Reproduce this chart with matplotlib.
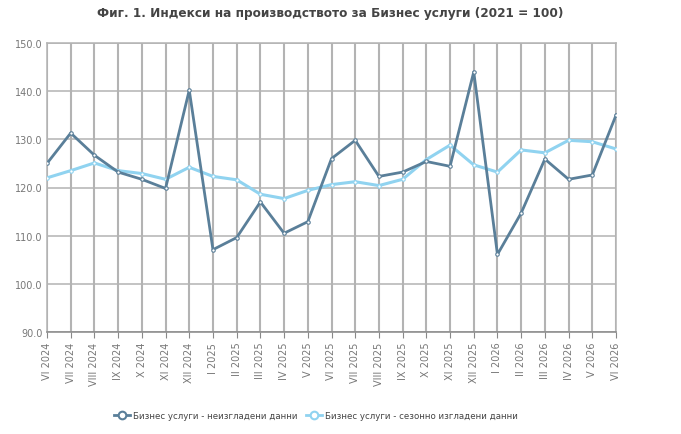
import matplotlib
matplotlib.use("Agg")
import matplotlib.pyplot as plt
from matplotlib.lines import Line2D

labels = ["VI 2024", "VII 2024", "VIII 2024", "IX 2024", "X 2024", "XI 2024", "XII 2024",
          "I 2025", "II 2025", "III 2025", "IV 2025", "V 2025", "VI 2025", "VII 2025",
          "VIII 2025", "IX 2025", "X 2025", "XI 2025", "XII 2025", "I 2026", "II 2026",
          "III 2026", "IV 2026", "V 2026", "VI 2026"]
raw = [125.0, 131.3, 126.7, 123.2, 121.7, 119.8, 140.2, 107.1, 109.6, 117.0, 110.5, 112.9,
       126.0, 129.8, 122.3, 123.2, 125.4, 124.4, 144.0, 106.1, 114.7, 125.9, 121.7, 122.6, 135.0]
sa = [122.0, 123.5, 125.1, 123.5, 122.9, 121.7, 124.2, 122.3, 121.6, 118.6, 117.7, 119.4,
      120.6, 121.2, 120.4, 121.7, 125.8, 128.8, 124.7, 123.2, 127.8, 127.2, 129.8, 129.5, 128.0]
series_names = ["Бизнес услуги - неизгладени данни", "Бизнес услуги - сезонно изгладени данни"]
title = "Фиг. 1. Индекси на производството за Бизнес услуги (2021 = 100)"

c_dark = "#5a7f99"
c_light = "#90d3f0"
grid_c = "#b3b3b3"
txt_c = "#777777"

fig = plt.figure(figsize=(6.81, 4.35), dpi=100)
ax = fig.add_axes([47/681, 1-333/435, (616-47)/681, (333-44)/435])
x = list(range(len(labels)))

ax.plot(x, sa, color=c_light, lw=2.2, marker="o", ms=2.5, mfc="white", mec=c_light, mew=0.8, zorder=3)
ax.plot(x, raw, color=c_dark, lw=2.0, marker="o", ms=2.5, mfc="white", mec=c_dark, mew=0.8, zorder=4)

ax.set_xlim(0, len(labels)-1)
ax.set_ylim(90, 150)
ax.set_yticks([90, 100, 110, 120, 130, 140, 150])
ax.set_yticklabels([f"{v:.1f}" for v in [90, 100, 110, 120, 130, 140, 150]])
ax.set_xticks(x)
ax.set_xticklabels(labels, rotation=90)
ax.tick_params(axis="x", length=4, color="#888888", labelsize=7, labelcolor=txt_c, pad=3)
ax.tick_params(axis="y", length=0, labelsize=7, labelcolor=txt_c, pad=3)

ax.xaxis.grid(True, color=grid_c, lw=1.5)
ax.yaxis.grid(True, color=grid_c, lw=1.1)
ax.set_axisbelow(True)
for s in ["top", "right", "left"]:
    ax.spines[s].set_color(grid_c)
    ax.spines[s].set_linewidth(1.1)
ax.spines["bottom"].set_color("#888888")
ax.spines["bottom"].set_linewidth(1.1)

fig.text(330/681, 1-13/435, title, ha="center", va="center", fontsize=8.7, fontweight="bold", color="#444444")

handles = [Line2D([], [], color=c_dark, lw=2, marker="o", ms=5.5, mfc="white", mec=c_dark, mew=1.5),
           Line2D([], [], color=c_light, lw=2, marker="o", ms=5.5, mfc="white", mec=c_light, mew=1.5)]
fig.legend(handles, series_names, loc="center", bbox_to_anchor=(316/681, 1-417/435), ncol=2,
           frameon=False, fontsize=6.2, handlelength=1.8, columnspacing=1.0, handletextpad=0.4,
           labelcolor="#444444")

fig.savefig("out.png", dpi=100)
